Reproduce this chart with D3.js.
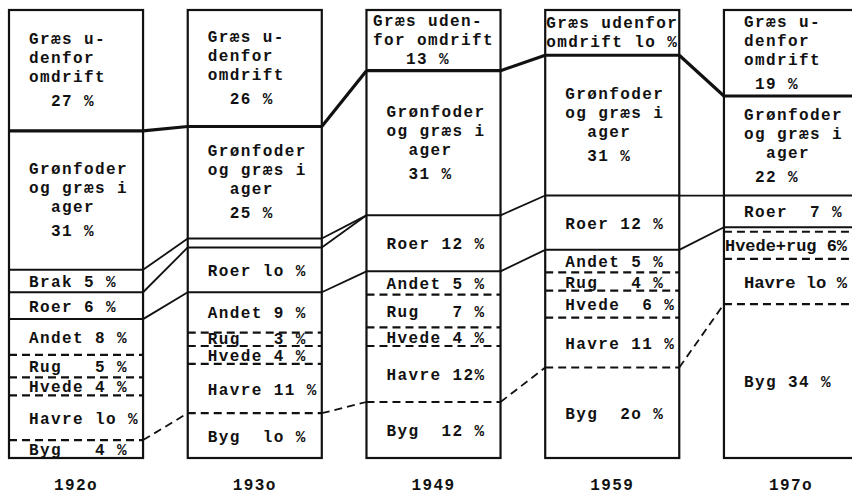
<!DOCTYPE html>
<html>
<head>
<meta charset="utf-8">
<script src="https://cdn.jsdelivr.net/npm/d3@7"></script>
<style>
  body { margin: 0; background: #fff; }
  svg { display: block; background: #fff; }
  text {
    font-family: "Liberation Mono", "DejaVu Sans Mono", monospace;
    font-weight: bold;
    font-size: 16px;
    letter-spacing: 1.4px;
    white-space: pre;
    fill: #111;
  }
</style>
</head>
<body>
<svg id="chart"></svg>
<script>
// typewritten year labels (o for zero, as in the original)
const years = ["192o", "193o", "1949", "1959", "197o"];

// land use categories, top to bottom of each column
const crops = ["græs", "grønfoder", "brak", "roer", "andet", "rug", "hvede", "hvedeRug", "havre", "byg"];

// percentages per year, in crop order (0 = not shown that year)
const values1920 = [27, 31, 5, 6, 8, 5, 4, 0, 10, 4];
const values1930 = [26, 25, 2, 10, 9, 3, 4, 0, 11, 10];
const values1949 = [13, 31, 0, 12, 5, 7, 4, 0, 12, 12];
const values1959 = [10, 31, 0, 12, 5, 4, 6, 0, 11, 20];
const values1970 = [19, 22, 0, 7, 1, 0, 0, 6, 10, 34];

// typed labels inside each segment
const labels1920 = [
  ["Græs u-", "denfor", "omdrift", "  27 %"],
  ["Grønfoder", "og græs i", "  ager", "  31 %"],
  ["Brak 5 %"], ["Roer 6 %"], ["Andet 8 %"], ["Rug   5 %"], ["Hvede 4 %"], [],
  ["Havre lo %"], ["Byg   4 %"]
];
const labels1930 = [
  ["Græs u-", "denfor", "omdrift", "  26 %"],
  ["Grønfoder", "og græs i", "  ager", "  25 %"],
  [], ["Roer lo %"], ["Andet 9 %"], ["Rug   3 %"], ["Hvede 4 %"], [],
  ["Havre 11 %"], ["Byg  lo %"]
];
const labels1949 = [
  ["Græs uden-", "for omdrift", "   13 %"],
  ["Grønfoder", "og græs i", "  ager", "  31 %"],
  [], ["Roer 12 %"], ["Andet 5 %"], ["Rug   7 %"], ["Hvede 4 %"], [],
  ["Havre 12%"], ["Byg  12 %"]
];
const labels1959 = [
  ["Græs udenfor", "omdrift lo %"],
  ["Grønfoder", "og græs i", "  ager", "  31 %"],
  [], ["Roer 12 %"], ["Andet 5 %"], ["Rug   4 %"], ["Hvede  6 %"], [],
  ["Havre 11 %"], ["Byg  2o %"]
];
const labels1970 = [
  ["Græs u-", "denfor", "omdrift", " 19 %"],
  ["Grønfoder", "og græs i", "  ager", " 22 %"],
  [], ["Roer  7 %"], [], [], [], ["Hvede+rug 6%"],
  ["Havre lo %"], ["Byg 34 %"]
];

const valueRows = [values1920, values1930, values1949, values1959, values1970];
const labelRows = [labels1920, labels1930, labels1949, labels1959, labels1970];

const width = 852;
const height = 498;
const yTop = 10;
const yBottom = 458;
const charW = 11; // typewriter pitch
const lineH = 19;

// which boundaries are solid, thick, or joined to the next column
const thickBottom = new Set(["græs"]);
const solidBottom = new Set(["græs", "grønfoder", "brak", "roer"]);
const linkedBottom = new Set(["græs", "grønfoder", "brak", "roer", "havre"]);

const svg = d3.select("#chart")
    .attr("width", width)
    .attr("height", height)
    .attr("viewBox", [0, 0, width, height]);

const x = d3.scaleBand()
    .domain(years)
    .range([9, 858])
    .paddingInner(0.25)
    .paddingOuter(0);
const bw = x.bandwidth();

// stack every column on its own scale
const columns = years.map((year, i) => {
  const vals = valueRows[i];
  const y = d3.scaleLinear().domain([0, d3.sum(vals)]).range([yTop, yBottom]);
  const cum = d3.cumsum(vals);
  const segs = crops.map((crop, k) => ({
    crop,
    k,
    value: vals[k],
    y0: y(cum[k] - vals[k]),
    y1: y(cum[k]),
    label: labelRows[i][k]
  }));
  return {year, x0: x(year), x1: x(year) + bw, segs};
});

// connectors between neighbouring columns
const links = [];
columns.slice(0, -1).forEach((col, i) => {
  const next = columns[i + 1];
  col.segs.forEach((s, k) => {
    if (!linkedBottom.has(s.crop)) return;
    if (s.crop === "brak" && s.value === 0) return;
    links.push({crop: s.crop, x1: col.x1, y1: s.y1, x2: next.x0, y2: next.segs[k].y1});
  });
});

svg.append("g")
    .selectAll("line")
    .data(links)
    .join("line")
    .attr("x1", d => d.x1)
    .attr("y1", d => d.y1)
    .attr("x2", d => d.x2)
    .attr("y2", d => d.y2)
    .attr("stroke", "#111")
    .attr("stroke-width", d => thickBottom.has(d.crop) ? 3.2 : 1.8)
    .attr("stroke-dasharray", d => solidBottom.has(d.crop) ? null : "8,5");

const colG = svg.append("g")
    .selectAll("g")
    .data(columns)
    .join("g");

// inner boundaries
colG.selectAll("line")
    .data(d => d.segs.filter(s => s.value > 0 && s.k < crops.length - 1).map(s => ({...s, x0: d.x0, x1: d.x1})))
    .join("line")
    .attr("x1", d => d.x0)
    .attr("x2", d => d.x1)
    .attr("y1", d => d.y1)
    .attr("y2", d => d.y1)
    .attr("stroke", "#111")
    .attr("stroke-width", d => thickBottom.has(d.crop) ? 3.2 : (solidBottom.has(d.crop) ? 2 : 2.2))
    .attr("stroke-dasharray", d => solidBottom.has(d.crop) ? null : "8,5");

// column frame
colG.append("rect")
    .attr("x", d => d.x0)
    .attr("y", yTop)
    .attr("width", bw)
    .attr("height", yBottom - yTop)
    .attr("fill", "none")
    .attr("stroke", "#111")
    .attr("stroke-width", 2.2);

// segment labels
const labelG = colG.selectAll("g.lbl")
    .data(d => d.segs.filter(s => s.label.length).map(s => {
      const w = d3.max(s.label, t => t.trimEnd().length) * charW;
      const off = w + 20 <= bw ? 20 : (bw - w) / 2;
      return {...s, lx: d.x0 + off};
    }))
    .join("g")
    .attr("class", "lbl")
    .attr("transform", d => `translate(${d.lx},0)`);

labelG.selectAll("text")
    .data(d => {
      const n = d.label.length;
      const mid = (d.y0 + d.y1) / 2;
      // squeeze a line only if it would run off the picture
      const room = width - d.lx - 5;
      const fit = t => (t.length * charW > room ? room : null);
      if (n === 1) return [{t: d.label[0], y: Math.min(mid + 6, d.y1 - 2), len: fit(d.label[0])}];
      const gap = n >= 4 ? 5 : 0;
      const first = mid - ((n - 1) * lineH + gap) / 2 + 5;
      return d.label.map((t, j) => ({t, y: first + j * lineH + (j === n - 1 ? gap : 0), len: fit(t)}));
    })
    .join("text")
    .attr("xml:space", "preserve")
    .attr("x", 0)
    .attr("y", d => d.y)
    .attr("textLength", d => d.len)
    .attr("lengthAdjust", d => d.len ? "spacingAndGlyphs" : null)
    .style("letter-spacing", d => d.len ? "0px" : null)
    .text(d => d.t);

// year labels
svg.append("g")
    .attr("transform", `translate(0,${yBottom})`)
    .call(d3.axisBottom(x).tickSize(0).tickPadding(21))
    .call(g => g.select(".domain").remove());
</script>
</body>
</html>
